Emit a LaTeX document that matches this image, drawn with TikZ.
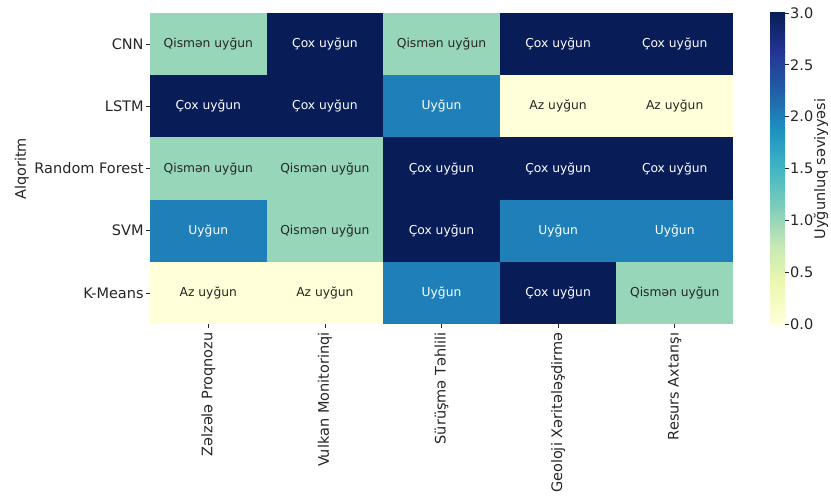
\documentclass[tikz,border=0pt]{standalone}
\usepackage{fontspec}
\setmainfont{DejaVu Sans}
\usetikzlibrary{positioning}

% YlGnBu levels
\definecolor{lvl0}{HTML}{FFFFD9}
\definecolor{lvl1}{HTML}{97D6B9}
\definecolor{lvl2}{HTML}{1F7FB8}
\definecolor{lvl3}{HTML}{081D58}
\definecolor{txt0}{HTML}{262626}
\definecolor{txt1}{HTML}{262626}
\definecolor{txt2}{HTML}{FFFFFF}
\definecolor{txt3}{HTML}{FFFFFF}
\definecolor{axistxt}{HTML}{262626}
% colour bar stops
\definecolor{cb0}{HTML}{FFFFD9}
\definecolor{cb1}{HTML}{EDF8B1}
\definecolor{cb2}{HTML}{C7E9B4}
\definecolor{cb3}{HTML}{7FCDBB}
\definecolor{cb4}{HTML}{41B6C4}
\definecolor{cb5}{HTML}{1D91C0}
\definecolor{cb6}{HTML}{225EA8}
\definecolor{cb7}{HTML}{253494}
\definecolor{cb8}{HTML}{081D58}

\newcommand{\levelname}[1]{\ifcase#1 Az uyğun\or Qismən uyğun\or Uyğun\or Çox uyğun\fi}

\begin{document}
\begin{tikzpicture}[
        x=1pt, y=-1pt,
        cell/.style={minimum width=116.6pt, minimum height=62.2pt, inner sep=0pt,
            font=\fontsize{12.3}{14}\selectfont},
        ticklabel/.style={font=\fontsize{14.5}{17}\selectfont, text=axistxt, inner sep=1pt},
        tickmark/.style={draw=axistxt, line width=0.8pt}
    ]
    \useasboundingbox (0,0) rectangle (831,499);

    % Heatmap cells (rows: algorithms, columns: tasks)
    \foreach \vals [count=\r] in {{1,3,1,3,3},{3,3,2,0,0},{1,1,3,3,3},{2,1,3,2,2},{0,0,2,3,1}} {
        \foreach \v [count=\c] in \vals {
            \node[cell, fill=lvl\v, text=txt\v] (c\r\c)
                at ({150+(\c-0.5)*116.6}, {13+(\r-0.5)*62.2}) {\levelname{\v}};
        }
    }

    % Row labels
    \foreach \name [count=\r] in {CNN, LSTM, Random Forest, SVM, K-Means} {
        \draw[tickmark] (c\r1.west) -- ++(-4,0) coordinate (rt\r);
        \node[ticklabel, anchor=east] (row\r) at ([xshift=-1pt]rt\r) {\name};
    }

    % Column labels
    \foreach \name [count=\c] in {Zəlzələ Proqnozu, Vulkan Monitorinqi, Sürüşmə Təhlili,
            Geoloji Xəritələşdirmə, Resurs Axtarışı} {
        \draw[tickmark] (c5\c.south) -- ++(0,4) coordinate (ct\c);
        \node[ticklabel, rotate=90, anchor=east] (col\c) at ([yshift=-3pt]ct\c) {\name};
    }

    % Axis title
    \node[ticklabel, rotate=90] (ylab) at (22,169) {Alqoritm};

    % Colour bar
    \foreach \i in {0,...,7} {
        \pgfmathtruncatemacro{\lo}{7-\i}
        \pgfmathtruncatemacro{\hi}{8-\i}
        \shade[top color=cb\hi, bottom color=cb\lo]
            (770,{13+\i*38.875-0.3}) rectangle (785,{13+(\i+1)*38.875+0.3});
    }
    \foreach \t [count=\k] in {0.0,0.5,1.0,1.5,2.0,2.5,3.0} {
        \draw[tickmark] (785,{324-\t*311/3}) -- ++(4,0) coordinate (cbt\k);
        \node[ticklabel, anchor=west] (cbl\k) at (cbt\k) {\t};
    }
    \node[ticklabel, rotate=90] (cblab) at (821,169) {Uyğunluq səviyyəsi};

\end{tikzpicture}
\end{document}
